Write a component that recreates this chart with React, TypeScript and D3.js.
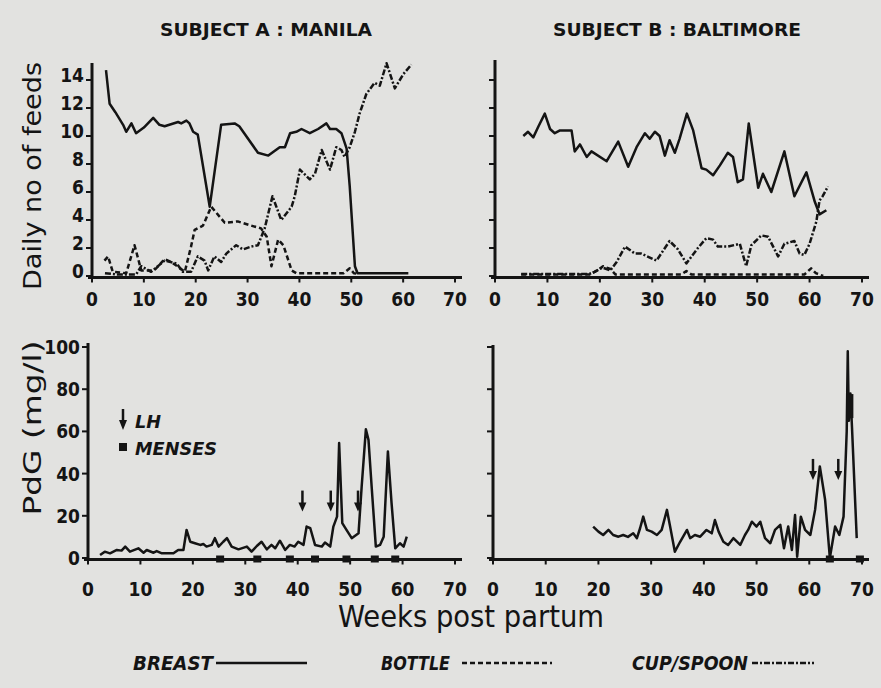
import React from "react";
import * as d3 from "d3";

// ---------- DATA ----------
const weekTicks = [0, 10, 20, 30, 40, 50, 60, 70];
const feedTicks = [0, 2, 4, 6, 8, 10, 12, 14];
const pdgTicks = [0, 20, 40, 60, 80, 100];

// Subject A (Manila) feeds
const breastA_w = [2.7, 3.4, 4.5, 6.0, 6.6, 7.6, 8.5, 10, 11.8, 13, 14, 16.6, 17.2, 18.2, 18.8, 19.5, 20.4, 22.7, 24.9, 27.5, 28.4, 32, 34, 36.2, 37.2, 38.2, 39.4, 40.4, 42, 43.6, 45.2, 45.9, 47.1, 48.1, 49.1, 49.7, 50.7, 51.2, 61];
const breastA_v = [14.7, 12.3, 11.7, 10.8, 10.3, 10.9, 10.2, 10.6, 11.3, 10.8, 10.7, 11, 10.9, 11.1, 10.9, 10.3, 10.1, 4.95, 10.8, 10.9, 10.7, 8.8, 8.6, 9.2, 9.2, 10.2, 10.3, 10.5, 10.2, 10.5, 10.9, 10.5, 10.5, 10.2, 9.1, 6.4, 0.7, 0.2, 0.2];

const bottleA_w = [2.4, 3.1, 4.0, 6.6, 8.2, 9.5, 12, 14, 15.3, 17.9, 19.1, 19.8, 21.4, 23, 25.6, 28.1, 30.7, 32.6, 33.7, 34.6, 35.9, 36.9, 38.5, 39.4, 45, 48.5, 49.7, 50.5, 51.5];
const bottleA_v = [1.1, 1.4, 0.3, 0.2, 2.2, 0.4, 0.4, 1.2, 1.0, 0.3, 2.1, 3.3, 3.6, 4.95, 3.8, 3.9, 3.6, 3.4, 2.8, 0.7, 2.6, 2.2, 0.4, 0.2, 0.2, 0.2, 0.55, 0.2, 0.15];

const cupA_w = [2.5, 5, 8.5, 9.5, 11.4, 14, 16.3, 17.5, 19.1, 20.4, 21.7, 22.4, 23.6, 24.9, 25.9, 27.8, 29.1, 30.7, 32, 33.3, 34.8, 36.5, 38.5, 39.1, 40.1, 42, 43, 44.3, 45.9, 47.1, 48.1, 48.7, 49.7, 50.7, 51.6, 52.9, 54.5, 55.5, 56.8, 58.4, 60, 61.6];
const cupA_v = [0.2, 0.1, 0.1, 0.7, 0.3, 1.1, 0.9, 0.3, 0.3, 1.4, 1.1, 0.4, 1.4, 1.0, 1.6, 2.2, 1.9, 2.1, 2.2, 3.4, 5.7, 4.0, 4.95, 5.7, 7.6, 6.9, 7.3, 9.0, 7.6, 9.2, 9.0, 8.5, 9.2, 10.3, 11.6, 13.0, 13.8, 13.6, 15.2, 13.4, 14.4, 15.1];

// Subject B (Baltimore) feeds
const breastB_w = [5.4, 6.3, 7.3, 8.3, 9.5, 10.5, 11.4, 12.4, 14.6, 15.2, 16.2, 17.5, 18.4, 21.3, 23.5, 25.4, 27, 28.6, 29.5, 30.5, 31.4, 32.4, 33.3, 34.3, 35.2, 36.6, 37.8, 39.4, 40.3, 41.6, 42.9, 44.4, 45.4, 46.3, 47.3, 48.4, 50.2, 51.1, 52.7, 55.2, 57.1, 59.4, 61, 61.9, 63.2];
const breastB_v = [10.0, 10.3, 9.9, 10.7, 11.6, 10.5, 10.2, 10.4, 10.4, 8.9, 9.4, 8.5, 8.9, 8.2, 9.6, 7.8, 9.2, 10.2, 9.8, 10.3, 10.0, 8.6, 9.7, 8.8, 9.8, 11.6, 10.4, 7.7, 7.6, 7.2, 7.9, 8.8, 8.5, 6.7, 6.9, 10.9, 6.3, 7.3, 6.0, 8.9, 5.7, 7.4, 5.3, 4.4, 4.7];

const bottleB_w = [5, 18, 19.5, 20.6, 22, 23, 30, 35.5, 36.5, 37.5, 45, 59, 60.3, 61.2, 62.6];
const bottleB_v = [0.1, 0.1, 0.4, 0.7, 0.5, 0.1, 0.1, 0.1, 0.35, 0.1, 0.1, 0.1, 0.55, 0.2, 0];

const cupB_w = [5, 18, 19, 20.5, 22, 23.2, 24.8, 26.7, 27.9, 30.8, 33.3, 34.9, 36.5, 38.7, 40.3, 41.6, 42.5, 44.4, 46.7, 47.9, 48.9, 50.8, 52.1, 54, 55.2, 57.1, 58.1, 59, 60, 61.3, 61.9, 62.5, 63.5];
const cupB_v = [0.15, 0.15, 0.3, 0.6, 0.4, 1.0, 2.1, 1.6, 1.6, 1.1, 2.5, 1.9, 0.9, 2.0, 2.7, 2.6, 2.1, 2.1, 2.3, 0.7, 2.2, 2.9, 2.8, 1.4, 2.3, 2.5, 1.6, 1.5, 2.3, 3.9, 5.4, 5.7, 6.4];

// PdG
const pdgA_w = [2.3, 3.2, 4.2, 5.5, 6.4, 7.1, 8, 9.6, 10.6, 11.2, 12.5, 13.1, 14.1, 16.3, 17.2, 18.2, 18.8, 19.5, 20.4, 21.4, 22, 22.6, 23.6, 24.2, 24.9, 25.8, 26.5, 27.4, 28.7, 30.3, 31.2, 32.2, 33.1, 34.1, 35, 35.7, 36.6, 37.6, 38.5, 39.4, 40.1, 41.1, 41.7, 42.4, 43.3, 44.6, 45.2, 46.2, 46.8, 47.5, 47.9, 48.5, 49.3, 50.3, 51.6, 52.2, 53, 53.5, 54.1, 54.9, 55.7, 56.4, 57.2, 57.9, 58.6, 59.5, 60.2, 60.8];
const pdgA_v = [1.4, 3, 2.2, 3.8, 3.5, 5.4, 3, 4.6, 2.5, 3.8, 2.5, 3.3, 2.2, 2.2, 3.8, 3.8, 13.3, 7.7, 7, 6.2, 6.6, 5.4, 6.2, 9.4, 5.4, 7.7, 9.4, 5.4, 4.1, 5.4, 3, 5.7, 7.7, 4.1, 6.2, 4.6, 8.2, 3.8, 6.2, 5.4, 7.7, 6.2, 14.9, 14.1, 6.2, 5.4, 7.3, 5.4, 14.9, 19.6, 54.5, 16.5, 13.3, 9.4, 11.7, 33.9, 61, 56, 33.9, 5.4, 6.2, 10.1, 50.5, 26, 4.6, 7, 5.4, 10.1];
const mensesA = [25.2, 32.3, 38.5, 43.3, 49.3, 54.7, 58.6];
const lhA = [40.9, 46.3, 51.5];

const pdgB_w = [19, 20, 20.9, 21.9, 22.8, 23.8, 24.7, 25.6, 26.6, 27.3, 27.9, 28.5, 29.2, 30.1, 31.1, 32, 33, 33.6, 34.5, 35.5, 36.8, 37.4, 38.3, 39.3, 40.5, 41.5, 42.1, 42.8, 43.7, 44.6, 45.6, 46.9, 47.8, 48.4, 49.1, 50, 50.7, 51.6, 52.6, 53.5, 54.5, 55.2, 56, 56.7, 57.3, 57.7, 58.4, 59.2, 60.2, 61.1, 62, 63, 63.9, 64.9, 65.7, 66.5, 67.1, 67.3, 67.5, 67.8, 68.1, 69];
const pdgB_v = [14.9, 12.5, 10.9, 13.3, 10.9, 10.1, 10.9, 10, 11.7, 9.4, 14.1, 19.6, 13.3, 12.5, 10.9, 13.3, 22.8, 14.9, 3, 7.7, 13.3, 9.4, 10.9, 10.1, 13.3, 11.7, 18, 12.5, 7.7, 6.2, 9.4, 6.2, 10.9, 13.3, 17.2, 14.9, 17.2, 9.4, 7, 13.3, 15.7, 4.6, 14.9, 3.8, 20.4, 0.6, 19.6, 13.3, 10.9, 22.8, 43.4, 27.6, 0, 14.9, 10.9, 19.6, 60, 98, 65, 78, 62, 9.4];
const mensesB = [63.9, 69.6];
const mensesB_high = [[67.7, 72]];
const lhB = [60.7, 65.5];

// ---------- STYLE ----------
const INK = "#141414";
const BG = "#e2e2e0";
const FONT = "'DejaVu Sans Condensed', 'Liberation Sans Narrow', 'DejaVu Sans', sans-serif";
const DASH_BOTTLE = "5,3";
const DASH_CUP = "6,2,2,2";

type Series = { w: number[]; v: number[]; dash?: string };

function Panel(props: {
  x0: number; x70: number; yZero: number; yTopVal: number; yTopPx: number;
  yDomainMax: number; yTicks: number[]; showYLabels: boolean; axisTop: number;
  series: Series[]; xLabelY: number; yLabelDy: number;
  menses?: number[]; mensesHigh?: number[][]; lh?: number[]; lhVal?: number;
}) {
  const x = d3.scaleLinear().domain([0, 70]).range([props.x0, props.x70]);
  const y = d3.scaleLinear().domain([0, props.yTopVal]).range([props.yZero, props.yTopPx]);
  const line = d3.line<[number, number]>().x(d => x(d[0])).y(d => y(d[1]));
  const axisY = props.yZero + 1.5;
  return (
    <g>
      {/* axes */}
      <line x1={x(0) - 4} x2={x(70) + 7} y1={axisY} y2={axisY} stroke={INK} strokeWidth={3} />
      <line x1={x(0)} x2={x(0)} y1={axisY} y2={props.axisTop} stroke={INK} strokeWidth={3} />
      {props.yTicks.map(t => (
        <line key={"yt" + t} x1={x(0) - 6} x2={x(0)} y1={y(t)} y2={y(t)} stroke={INK} strokeWidth={2} />
      ))}
      {weekTicks.map(t => (
        <line key={"xt" + t} x1={x(t)} x2={x(t)} y1={axisY} y2={axisY + 5} stroke={INK} strokeWidth={2} />
      ))}
      {weekTicks.map(t => (
        <text key={"xl" + t} x={x(t)} y={props.xLabelY} textAnchor="middle" fontFamily={FONT}
          fontSize={19} fill={INK} fontWeight="bold">{t}</text>
      ))}
      {props.showYLabels && props.yTicks.map(t => (
        <text key={"yl" + t} x={x(0) - 8} y={y(t) + props.yLabelDy} textAnchor="end" fontFamily={FONT}
          fontSize={19} fill={INK} fontWeight="bold">{t}</text>
      ))}
      {props.series.map((s, i) => (
        <path key={"s" + i} d={line(s.w.map((w, j) => [w, s.v[j]] as [number, number])) || ""}
          fill="none" stroke={INK} strokeWidth={2.5} strokeDasharray={s.dash}
          strokeLinejoin="round" />
      ))}
      {(props.menses || []).map((m, i) => (
        <rect key={"m" + i} x={x(m) - 4} y={axisY - 4} width={8} height={7} fill={INK} />
      ))}
      {(props.mensesHigh || []).map((m, i) => (
        <rect key={"mh" + i} x={x(m[0]) - 3.5} y={y(m[1]) - 12} width={7} height={24} fill={INK} />
      ))}
      {(props.lh || []).map((l, i) => {
        const tipX = x(l);
        const tipY = y(props.lhVal || 0);
        return (
          <g key={"lh" + i}>
            <line x1={tipX} x2={tipX} y1={tipY - 21} y2={tipY - 6} stroke={INK} strokeWidth={2.5} />
            <path d={`M${tipX - 4},${tipY - 9} L${tipX + 4},${tipY - 9} L${tipX},${tipY} Z`} fill={INK} />
          </g>
        );
      })}
    </g>
  );
}

export default function App() {
  return (
    <svg width={881} height={688} style={{ position: "absolute", left: 0, top: 0 }}>
      <rect x={0} y={0} width={881} height={688} fill={BG} />
      {/* titles */}
      <text x={266} y={36} textAnchor="middle" fontFamily={FONT} fontWeight="bold" fontSize={18}
        fill={INK} textLength={212} lengthAdjust="spacingAndGlyphs">SUBJECT A : MANILA</text>
      <text x={677} y={36} textAnchor="middle" fontFamily={FONT} fontWeight="bold" fontSize={18}
        fill={INK} textLength={248} lengthAdjust="spacingAndGlyphs">SUBJECT B : BALTIMORE</text>

      {/* y axis titles */}
      <text transform="translate(41,176) rotate(-90)" textAnchor="middle" fontFamily={FONT}
        fontSize={24} fill={INK} textLength={228} lengthAdjust="spacingAndGlyphs">Daily no of feeds</text>
      <text transform="translate(41,428) rotate(-90)" textAnchor="middle" fontFamily={FONT}
        fontSize={24} fill={INK} textLength={175} lengthAdjust="spacingAndGlyphs">PdG (mg/l)</text>

      {/* panels */}
      <Panel x0={92} x70={455} yZero={276} yTopVal={14} yTopPx={80} yDomainMax={14}
        yTicks={feedTicks} showYLabels={true} axisTop={63} xLabelY={306} yLabelDy={2}
        series={[
          { w: breastA_w, v: breastA_v },
          { w: bottleA_w, v: bottleA_v, dash: DASH_BOTTLE },
          { w: cupA_w, v: cupA_v, dash: DASH_CUP },
        ]} />
      <Panel x0={495} x70={862} yZero={276} yTopVal={14} yTopPx={80} yDomainMax={14}
        yTicks={feedTicks} showYLabels={false} axisTop={60} xLabelY={306} yLabelDy={2}
        series={[
          { w: breastB_w, v: breastB_v },
          { w: bottleB_w, v: bottleB_v, dash: DASH_BOTTLE },
          { w: cupB_w, v: cupB_v, dash: DASH_CUP },
        ]} />
      <Panel x0={88} x70={455} yZero={558} yTopVal={100} yTopPx={347} yDomainMax={100}
        yTicks={pdgTicks} showYLabels={true} axisTop={343} xLabelY={596} yLabelDy={7}
        series={[{ w: pdgA_w, v: pdgA_v }]} menses={mensesA} lh={lhA} lhVal={22} />
      <Panel x0={493} x70={862} yZero={558} yTopVal={100} yTopPx={347} yDomainMax={100}
        yTicks={pdgTicks} showYLabels={false} axisTop={345} xLabelY={596} yLabelDy={7}
        series={[{ w: pdgB_w, v: pdgB_v }]} menses={mensesB} mensesHigh={mensesB_high} lh={lhB} lhVal={37} />

      {/* LH / MENSES key */}
      <line x1={123} x2={123} y1={409} y2={422} stroke={INK} strokeWidth={2.5} />
      <path d="M119,420 L127,420 L123,430 Z" fill={INK} />
      <text x={135} y={428} fontFamily={FONT} fontStyle="italic" fontWeight="bold" fontSize={18} fill={INK}
        textLength={26} lengthAdjust="spacingAndGlyphs">LH</text>
      <rect x={119} y={443} width={8} height={8} fill={INK} />
      <text x={135} y={455} fontFamily={FONT} fontStyle="italic" fontWeight="bold" fontSize={18} fill={INK}
        textLength={82} lengthAdjust="spacingAndGlyphs">MENSES</text>

      {/* x axis title */}
      <text x={471} y={627} textAnchor="middle" fontFamily={FONT} fontSize={30} fill={INK}
        textLength={266} lengthAdjust="spacingAndGlyphs">Weeks post partum</text>

      {/* legend */}
      <text x={133} y={670} fontFamily={FONT} fontStyle="italic" fontWeight="bold" fontSize={19} fill={INK}
        textLength={80} lengthAdjust="spacingAndGlyphs">BREAST</text>
      <line x1={216} x2={307} y1={663} y2={663} stroke={INK} strokeWidth={2.5} />
      <text x={381} y={670} fontFamily={FONT} fontStyle="italic" fontWeight="bold" fontSize={19} fill={INK}
        textLength={69} lengthAdjust="spacingAndGlyphs">BOTTLE</text>
      <line x1={462} x2={552} y1={663} y2={663} stroke={INK} strokeWidth={2.5} strokeDasharray={DASH_BOTTLE} />
      <text x={632} y={670} fontFamily={FONT} fontStyle="italic" fontWeight="bold" fontSize={19} fill={INK}
        textLength={116} lengthAdjust="spacingAndGlyphs">CUP/SPOON</text>
      <line x1={752} x2={814} y1={663} y2={663} stroke={INK} strokeWidth={2.5} strokeDasharray={DASH_CUP} />
    </svg>
  );
}
